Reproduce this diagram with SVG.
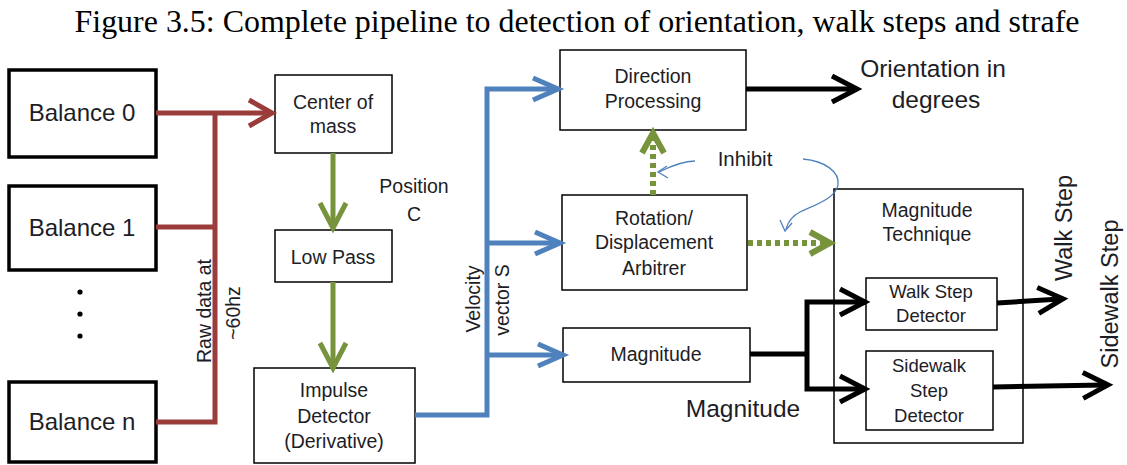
<svg xmlns="http://www.w3.org/2000/svg" width="1127" height="465" viewBox="0 0 1127 465">
<style>
.t{font-family:"Liberation Sans",Arial,sans-serif;fill:#1d1d26;text-anchor:middle}
.b{font-size:19.5px}
.s{font-size:18.5px}
.big{font-size:24px}
.title{font-family:"Liberation Serif","Times New Roman",serif;font-size:31px;fill:#000;text-anchor:middle}
.thick{fill:#fff;stroke:#000;stroke-width:3.5}
.thin{fill:#fff;stroke:#000;stroke-width:1.5}
.red{fill:none;stroke:#993c3a;stroke-width:5}
.green{fill:none;stroke:#77933c;stroke-width:5}
.gdot{fill:none;stroke:#77933c;stroke-width:6;stroke-dasharray:5 4}
.blue{fill:none;stroke:#4f81bd;stroke-width:5}
.black{fill:none;stroke:#000;stroke-width:5}
.curve{fill:none;stroke:#4f81bd;stroke-width:1.3}
</style>
<defs>
<marker id="aRed" markerUnits="userSpaceOnUse" viewBox="-30 -20 40 40" markerWidth="40" markerHeight="40" refX="0" refY="0" orient="auto"><path d="M-20,-13 L3,0 L-20,13" fill="none" stroke="#993c3a" stroke-width="5"/></marker>
<marker id="aGreen" markerUnits="userSpaceOnUse" viewBox="-30 -20 40 40" markerWidth="40" markerHeight="40" refX="0" refY="0" orient="auto"><path d="M-22,-13 L3,0 L-22,13" fill="none" stroke="#77933c" stroke-width="5"/></marker>
<marker id="aGreenS" markerUnits="userSpaceOnUse" viewBox="-30 -20 40 40" markerWidth="40" markerHeight="40" refX="0" refY="0" orient="auto"><path d="M-17,-11 L3,0 L-17,11" fill="none" stroke="#77933c" stroke-width="6"/></marker>
<marker id="aBlue" markerUnits="userSpaceOnUse" viewBox="-30 -20 40 40" markerWidth="40" markerHeight="40" refX="0" refY="0" orient="auto"><path d="M-22,-11 L3,0 L-22,11" fill="none" stroke="#4f81bd" stroke-width="5"/></marker>
<marker id="aBlack" markerUnits="userSpaceOnUse" viewBox="-30 -20 40 40" markerWidth="40" markerHeight="40" refX="0" refY="0" orient="auto"><path d="M-22,-13 L3,0 L-22,13" fill="none" stroke="#000" stroke-width="5"/></marker>
</defs>
<rect width="1127" height="465" fill="#fff"/>
<text class="title" x="577" y="32" textLength="1005" lengthAdjust="spacingAndGlyphs">Figure 3.5: Complete pipeline to detection of orientation, walk steps and strafe</text>

<g id="balance0"><rect class="thick" x="9" y="70" width="147" height="87"/><text class="t big" x="82" y="121">Balance 0</text></g>
<g id="balance1"><rect class="thick" x="9" y="186" width="147" height="84"/><text class="t big" x="82" y="236">Balance 1</text></g>
<g id="dots"><circle cx="80" cy="292" r="2.6" fill="#000"/><circle cx="80" cy="314" r="2.6" fill="#000"/><circle cx="80" cy="336" r="2.6" fill="#000"/></g>
<g id="balanceN"><rect class="thick" x="9" y="382" width="147" height="80"/><text class="t big" x="82" y="430">Balance n</text></g>
<g id="rawLabel"><text class="t b" transform="translate(211,311) rotate(-90)">Raw data at</text><text class="t b" transform="translate(240,313) rotate(-90)">~60hz</text></g>

<g id="centerOfMass"><rect class="thin" x="275" y="75" width="117" height="78"/><text class="t b" x="333" y="109">Center of</text><text class="t b" x="333" y="133">mass</text></g>
<g id="positionLabel"><text class="t b" x="414" y="193">Position</text><text class="t b" x="414" y="221">C</text></g>
<g id="lowPass"><rect class="thin" x="275" y="230" width="117" height="52"/><text class="t b" x="333" y="264">Low Pass</text></g>
<g id="impulse"><rect class="thin" x="254" y="368" width="161" height="95"/><text class="t b" x="334" y="397">Impulse</text><text class="t b" x="334" y="423">Detector</text><text class="t b" x="334" y="448">(Derivative)</text></g>
<g id="velocityLabel"><text class="t b" transform="translate(480,299) rotate(-90)">Velocity</text><text class="t b" transform="translate(509,300) rotate(-90)">vector S</text></g>

<g id="direction"><rect class="thin" x="560" y="50" width="186" height="80"/><text class="t b" x="653" y="83">Direction</text><text class="t b" x="653" y="108">Processing</text></g>
<g id="inhibitLabel"><text class="t" style="font-size:20.5px" x="745" y="166">Inhibit</text></g>
<g id="rotation"><rect class="thin" x="562" y="195" width="185" height="95"/><text class="t b" x="654" y="225">Rotation/</text><text class="t b" x="654" y="249">Displacement</text><text class="t b" x="654" y="275">Arbitrer</text></g>
<g id="magnitude"><rect class="thin" x="563" y="328" width="187" height="54"/><text class="t b" x="656" y="361">Magnitude</text></g>
<g id="magnitudeLabel"><text class="t" style="font-size:24.5px" x="743" y="417">Magnitude</text></g>
<g id="orientationOut"><text class="t" style="font-size:24.5px" x="933" y="77">Orientation in</text><text class="t" style="font-size:24.5px" x="936" y="108">degrees</text></g>

<g id="magnitudeTechnique"><rect class="thin" x="834" y="189" width="189" height="254"/><text class="t b" x="927" y="217">Magnitude</text><text class="t b" x="927" y="241">Technique</text></g>
<g id="walkStepDetector"><rect class="thin" x="866" y="278" width="131" height="52"/><text class="t s" x="931" y="298">Walk Step</text><text class="t s" x="931" y="322">Detector</text></g>
<g id="sidewalkStepDetector"><rect class="thin" x="866" y="351" width="127" height="79"/><text class="t s" x="929" y="372">Sidewalk</text><text class="t s" x="929" y="397">Step</text><text class="t s" x="929" y="422">Detector</text></g>
<g id="walkStepOut"><text class="t" style="font-size:23.5px" transform="translate(1072,228) rotate(-90)">Walk Step</text></g>
<g id="sidewalkStepOut"><text class="t" style="font-size:23.5px" transform="translate(1118,294) rotate(-90)">Sidewalk Step</text></g>

<g id="connectors">
<path class="red" d="M156,113 H269" marker-end="url(#aRed)"/>
<path class="red" d="M156,422 H215 V111"/>
<path class="red" d="M156,227 H215"/>
<path class="green" d="M333,153 V225" marker-end="url(#aGreen)"/>
<path class="green" d="M333,282 V365" marker-end="url(#aGreen)"/>
<path class="blue" d="M415,415 H487 V89 H555" marker-end="url(#aBlue)"/>
<path class="blue" d="M487,243 H557" marker-end="url(#aBlue)"/>
<path class="blue" d="M487,355 H560" marker-end="url(#aBlue)"/>
<path class="gdot" d="M653,195 V136" marker-end="url(#aGreenS)"/>
<path class="gdot" d="M748,243 H827" marker-end="url(#aGreenS)"/>
<path class="black" d="M746,89 H854" marker-end="url(#aBlack)"/>
<path class="black" d="M750,354 H807"/>
<path class="black" d="M807,354 V302 H862" marker-end="url(#aBlack)"/>
<path class="black" d="M807,354 V389 H862" marker-end="url(#aBlack)"/>
<path class="black" d="M997,303 L1060,299" marker-end="url(#aBlack)"/>
<path class="black" d="M993,387 L1105,385" marker-end="url(#aBlack)"/>
<path class="curve" d="M695,161 C683,161 671,166 659,172"/>
<path class="curve" d="M667,166 L658,172 L668,178"/>
<path class="curve" d="M803,159 C825,161 840,172 838,185 C836,198 815,205 800,212 C792,216 788,222 786,229"/>
<path class="curve" d="M780,220 L785,231 L792,223"/>
</g>
</svg>
